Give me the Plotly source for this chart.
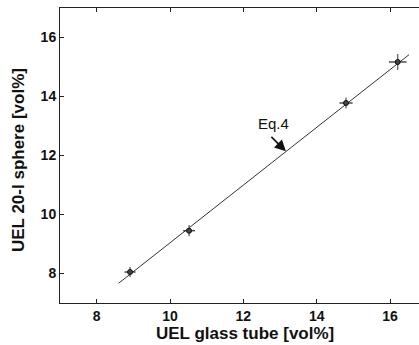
import plotly.graph_objects as go

# Data
uel_glass_tube = [8.91, 10.52, 14.80, 16.21]
uel_sphere = [8.05, 9.45, 13.78, 15.17]
err_x = [0.15, 0.16, 0.18, 0.24]
err_y = [0.17, 0.19, 0.19, 0.27]

fit_x = [8.60, 16.52]
fit_y = [7.67, 15.42]

x_ticks = [8, 10, 12, 14, 16]
y_ticks = [8, 10, 12, 14, 16]

x_title = "UEL glass tube [vol%]"
y_title = "UEL 20-l sphere [vol%]"

FONT = "Liberation Sans, Arial, sans-serif"
W, H = 419, 345
ML, MR, MT, MB = 60, 0, 8, 42

fig = go.Figure()

fig.add_trace(go.Scatter(
    x=fit_x, y=fit_y, mode="lines",
    line=dict(color="#333333", width=1),
    showlegend=False, hoverinfo="skip",
))

fig.add_trace(go.Scatter(
    x=uel_glass_tube, y=uel_sphere, mode="markers",
    marker=dict(symbol="circle", size=5, color="#444444",
                line=dict(color="#111111", width=1)),
    error_x=dict(type="data", array=err_x, visible=True, width=0,
                 thickness=1.2, color="#222222"),
    error_y=dict(type="data", array=err_y, visible=True, width=0,
                 thickness=1.2, color="#555555"),
    showlegend=False,
))

# Arrow for Eq.4
fig.add_annotation(
    x=13.16, y=12.14, xref="x", yref="y",
    text=" ", font=dict(size=1),
    showarrow=True, ax=-16, ay=-16,
    arrowhead=2, arrowsize=1.4, arrowwidth=1.6, arrowcolor="#111111",
)
fig.add_annotation(
    x=12.81, y=13.07, xref="x", yref="y",
    text="Eq.4", showarrow=False,
    font=dict(family=FONT, size=15, color="#111111"),
)

# Axis titles as paper annotations
pw = W - ML - MR
ph = H - MT - MB
fig.add_annotation(
    xref="paper", yref="paper",
    x=(245 - ML) / pw, y=(H - MB - 334) / ph,
    text=x_title, showarrow=False, xanchor="center", yanchor="middle",
    font=dict(family=FONT, size=17, color="#111111", weight="bold"),
)
fig.add_annotation(
    xref="paper", yref="paper",
    x=(18 - ML) / pw, y=(H - MB - 160) / ph,
    text=y_title, showarrow=False, textangle=-90,
    xanchor="center", yanchor="middle",
    font=dict(family=FONT, size=17, color="#111111", weight="bold"),
)

axis_common = dict(
    showgrid=False, zeroline=False, automargin=False,
    showline=True, linecolor="#222222", linewidth=1,
    ticks="inside", ticklen=4, tickcolor="#222222",
    tickfont=dict(family=FONT, size=14, color="#111111", weight="bold"),
)

fig.update_xaxes(range=[7, 16.79], tickvals=x_ticks, mirror="ticks", **axis_common)
fig.update_yaxes(range=[7, 17], tickvals=y_ticks, mirror=False, **axis_common)

fig.update_layout(
    width=W, height=H,
    margin=dict(l=ML, r=MR, t=MT, b=MB),
    plot_bgcolor="white", paper_bgcolor="white",
)

fig.write_html(
    "out.html",
    config={"displayModeBar": False},
    post_script="document.body.style.margin='0';document.body.style.overflow='hidden';",
)
